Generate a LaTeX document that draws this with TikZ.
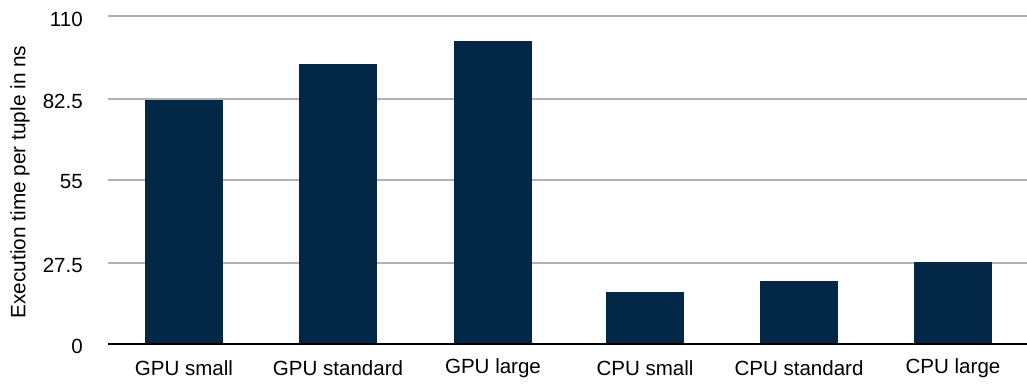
\documentclass[tikz,border=0pt]{standalone}
\usepackage{fontspec}
\setmainfont{Liberation Sans}
\definecolor{barnavy}{RGB}{3,39,71}
\definecolor{gridgray}{RGB}{178,178,178}
\begin{document}
\begin{tikzpicture}[x=0.75pt,y=-0.75pt,
  grid/.style={draw=gridgray,line width=1.2pt},
  baseaxis/.style={draw=black,line width=1.4pt},
  barfill/.style={fill=barnavy},
  ticklab/.style={anchor=east,font=\fontsize{15.4}{18}\selectfont,inner sep=0pt},
  catlab/.style={anchor=center,font=\fontsize{15.4}{18}\selectfont,inner sep=0pt},
  axislab/.style={rotate=90,anchor=center,font=\fontsize{15.6}{18}\selectfont,inner sep=0pt}]
\useasboundingbox (0,0) rectangle (1027,383);
% horizontal grid lines
\foreach \yy in {16,99,180,263} \draw[grid] (108,\yy) -- (1027,\yy);
% bars
\fill[barfill] (145,344) rectangle (223,99.5);
\fill[barfill] (299,344) rectangle (377,64);
\fill[barfill] (454,344) rectangle (532,41);
\fill[barfill] (606,344) rectangle (684,292);
\fill[barfill] (760,344) rectangle (838,281);
\fill[barfill] (914,344) rectangle (992,262);
% value axis baseline
\draw[baseaxis] (108,344) -- (1027,344);
% tick labels
\node[ticklab] (t0) at (83,346) {0};
\node[ticklab] (t1) at (83,265) {27.5};
\node[ticklab] (t2) at (83,182) {55};
\node[ticklab] (t3) at (83,101) {82.5};
\node[ticklab] (t4) at (83,19) {110};
% category labels
\node[catlab] (c1) at (184,368) {GPU small};
\node[catlab] (c2) at (338,368) {GPU standard};
\node[catlab] (c3) at (493,368) {GPU large};
\node[catlab] (c4) at (645,368) {CPU small};
\node[catlab] (c5) at (799,368) {CPU standard};
\node[catlab] (c6) at (953,368) {CPU large};
% axis title
\node[axislab] (yt) at (20,182) {Execution time per tuple in ns};
\end{tikzpicture}
\end{document}
